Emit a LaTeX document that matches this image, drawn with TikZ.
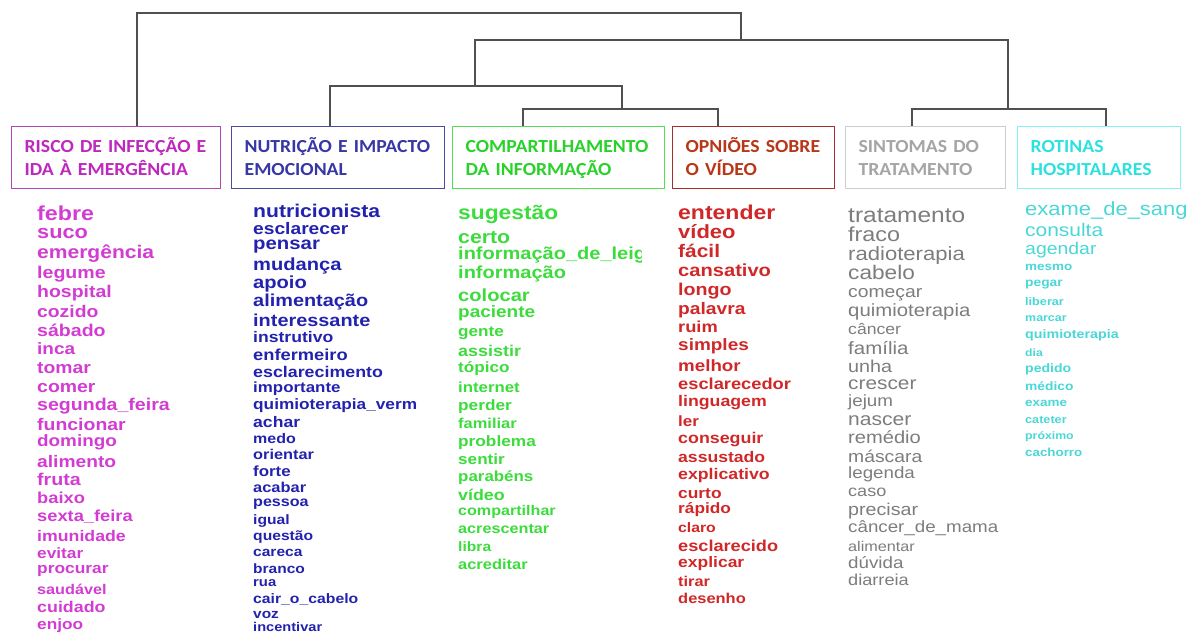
\documentclass[tikz,border=0pt]{standalone}
\usepackage{fontspec}
\newfontfamily\wordfont{Liberation Sans}[FakeStretch=1.15]
\newfontfamily\titlefont{Carlito}[FakeStretch=1.07]
\definecolor{magT}{RGB}{190,40,190}
\definecolor{magW}{RGB}{210,60,210}
\definecolor{magB}{RGB}{180,70,180}
\definecolor{bluT}{RGB}{55,55,165}
\definecolor{bluW}{RGB}{34,34,175}
\definecolor{bluB}{RGB}{75,75,165}
\definecolor{grnT}{RGB}{40,210,40}
\definecolor{grnW}{RGB}{60,220,60}
\definecolor{grnB}{RGB}{80,225,80}
\definecolor{redT}{RGB}{185,55,25}
\definecolor{redW}{RGB}{208,40,40}
\definecolor{redB}{RGB}{170,45,45}
\definecolor{gryT}{RGB}{165,165,165}
\definecolor{gryW}{RGB}{125,125,125}
\definecolor{gryB}{RGB}{205,205,205}
\definecolor{cyaT}{RGB}{45,225,225}
\definecolor{cyaW}{RGB}{75,215,215}
\definecolor{cyaB}{RGB}{135,240,240}
\definecolor{dendro}{RGB}{80,80,80}
\tikzset{
  dend/.style={draw=dendro, line width=1.5pt},
  catbox/.style={draw, line width=1.3pt, anchor=north west, minimum height=62pt,
    inner xsep=13pt, inner ysep=3pt, align=left,
    font=\titlefont\bfseries\fontsize{18.4}{23}\selectfont},
  word/.style={anchor=base west, inner sep=0pt}
}
\newcommand\tl[2]{\rule{0pt}{17pt}\mbox{#1}\\\mbox{#2}\rule[-5pt]{0pt}{5pt}}
\begin{document}
\begin{tikzpicture}[x=1pt,y=-1pt]
\useasboundingbox[fill=white] (0,0) rectangle (1189,634);

% category boxes
\node[catbox, draw=magB, text=magT, text width=183pt] (box1) at (11,126) {\tl{RISCO DE INFECÇÃO E}{IDA À EMERGÊNCIA}};
\node[catbox, draw=bluB, text=bluT, text width=187pt] (box2) at (231,126) {\tl{NUTRIÇÃO E IMPACTO}{EMOCIONAL}};
\node[catbox, draw=grnB, text=grnT, text width=186pt] (box3) at (452,126) {\tl{COMPARTILHAMENTO}{DA INFORMAÇÃO}};
\node[catbox, draw=redB, text=redT, text width=136pt] (box4) at (672,126) {\tl{OPNIÕES SOBRE}{O VÍDEO}};
\node[catbox, draw=gryB, text=gryT, text width=134pt] (box5) at (845,126) {\tl{SINTOMAS DO}{TRATAMENTO}};
\node[catbox, draw=cyaB, text=cyaT, text width=137pt] (box6) at (1017,126) {\tl{ROTINAS}{HOSPITALARES}};

% dendrogram junctions
\coordinate (h0) at (741,13);
\coordinate (m1) at (741,40);
\coordinate (m2) at (475,86);
\coordinate (m3) at (622,109);
\coordinate (m4) at (1008,109);
\coordinate (a1) at (137,0);
\coordinate (a2) at (330,0);
\coordinate (a3) at (523,0);
\coordinate (a4) at (718,0);
\coordinate (a5) at (912,0);
\coordinate (a6) at (1106,0);

\draw[dend] (box1.north -| a1) |- (h0) -- (m1);
\draw[dend] (m2) |- (m1) -| (m4);
\draw[dend] (box2.north -| a2) |- (m2) -| (m3);
\draw[dend] (box3.north -| a3) |- (m3) -| (box4.north -| a4);
\draw[dend] (box5.north -| a5) |- (m4) -| (box6.north -| a6);

% column 1
\foreach \w/\s/\y [count=\i] in {febre/20.2/214, suco/18.9/233, emergência/18.3/253, legume/17/273, hospital/16.9/292, cozido/16.8/312, sábado/17/331, inca/16.5/350, tomar/16.8/368, comer/16.9/387, segunda\_feira/17/405, funcionar/16.9/425, domingo/16.4/442, alimento/16.7/462, fruta/17.1/480, baixo/15.9/499, sexta\_feira/15.9/517, imunidade/15.4/537, evitar/15/554, procurar/15.1/569, saudável/14.1/590, cuidado/15.5/608, enjoo/15/625}
  \node[word, text=magW, font=\wordfont\bfseries\fontsize{\s}{\s}\selectfont] (mag\i) at (37,{\y+0.3*\s}) {\w};

% column 2
\foreach \w/\s/\y [count=\i] in {nutricionista/18.4/212, esclarecer/16.7/229, pensar/17.7/244, mudança/17.5/265, apoio/17.5/283, alimentação/17.3/301, interessante/17.3/321, instrutivo/15.3/338, enfermeiro/15.9/356, esclarecimento/15.5/373, importante/14.7/388, quimioterapia\_verm/15/405, achar/15.3/423, medo/13.9/439, orientar/14.2/455, forte/14.7/472, acabar/14.3/488, pessoa/14/502, igual/13.6/520, questão/13.6/536, careca/13.5/552, branco/13.5/569, rua/12.9/583, cair\_o\_cabelo/13.7/599, voz/13.4/614.5, incentivar/12.7/628}
  \node[word, text=bluW, font=\wordfont\bfseries\fontsize{\s}{\s}\selectfont] (blu\i) at (253,{\y+0.3*\s}) {\w};

% column 3
\foreach \w/\s/\y [count=\i] in {sugestão/19.8/214, certo/18.5/238, informação/17.4/273, colocar/17.5/296, paciente/16.5/313, gente/14.9/332, assistir/15.6/352, tópico/14.9/368, internet/14.6/388, perder/15/406, familiar/14.3/424, problema/15/442, sentir/14.9/460, parabéns/14.7/477, vídeo/15.5/496, compartilhar/14/511, acrescentar/14.1/529, libra/13.6/547, acreditar/14.3/565}
  \node[word, text=grnW, font=\wordfont\bfseries\fontsize{\s}{\s}\selectfont] (grn\i) at (458,{\y+0.3*\s}) {\w};
\begin{scope}
  \clip (450,240) rectangle (641,268);
  \node[word, text=grnW, font=\wordfont\bfseries\fontsize{17.4}{17.4}\selectfont] (grnleig) at (458,259.2) {informação\_de\_leig};
\end{scope}

% column 4
\foreach \w/\s/\y [count=\i] in {entender/20/213, vídeo/19.1/233, fácil/18.2/252, cansativo/17.5/271, longo/17.1/290, palavra/16.7/309, ruim/15.9/328, simples/16.5/346, melhor/16.3/367, esclarecedor/15.9/385, linguagem/15.4/402, ler/14.8/422, conseguir/15.5/439, assustado/15.3/458, explicativo/15.4/475, curto/15.1/494, rápido/15/509, claro/13.7/528, esclarecido/15.8/547, explicar/15.2/563, tirar/14.2/582, desenho/14.3/599}
  \node[word, text=redW, font=\wordfont\bfseries\fontsize{\s}{\s}\selectfont] (red\i) at (678,{\y+0.3*\s}) {\w};

% column 5
\foreach \w/\s/\y [count=\i] in {tratamento/21.3/216, fraco/20.3/235, radioterapia/19.2/255, cabelo/19.7/274, começar/16.8/292, quimioterapia/17.7/311, câncer/15.3/330, família/17.8/349, unha/17.2/367, crescer/18.1/384, jejum/16.3/402, nascer/18.3/420, remédio/17.5/438, máscara/16.8/457, legenda/16.3/474, caso/15.7/492, precisar/17.1/510, câncer\_de\_mama/16.3/528, alimentar/14.1/547, dúvida/16.3/564, diarreia/15.8/581}
  \node[word, text=gryW, font=\wordfont\fontsize{\s}{\s}\selectfont] (gry\i) at (848,{\y+0.3*\s}) {\w};

% column 6
\foreach \w/\s/\y [count=\i] in {exame\_de\_sang/19.1/210, consulta/18.2/231, agendar/16.9/249}
  \node[word, text=cyaW, font=\wordfont\fontsize{\s}{\s}\selectfont] (cya\i) at (1025,{\y+0.3*\s}) {\w};
\foreach \w/\s/\y [count=\i] in {mesmo/11.7/267, pegar/12/283, liberar/11/302, marcar/10.8/318, quimioterapia/12.4/335, dia/10.6/353, pedido/12.2/369, médico/12/387, exame/11.7/403, cateter/11/420, próximo/10.7/436, cachorro/11.6/453}
  \node[word, text=cyaW, font=\wordfont\bfseries\fontsize{\s}{\s}\selectfont] (cyb\i) at (1025,{\y+0.3*\s}) {\w};
\end{tikzpicture}
\end{document}
